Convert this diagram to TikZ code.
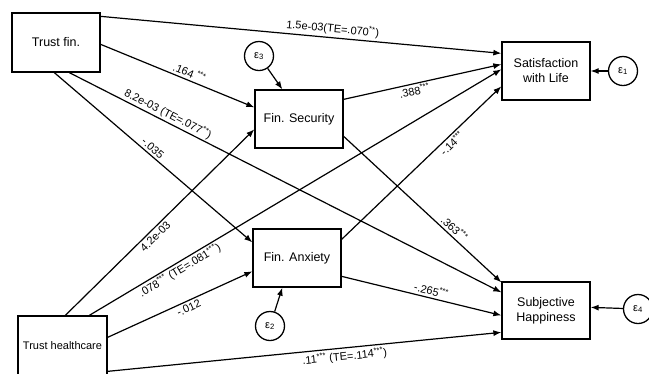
\documentclass[tikz,border=0pt]{standalone}
\usepackage{fontspec}
\setmainfont{Liberation Sans}
\usetikzlibrary{arrows.meta,calc}
\tikzset{
  box/.style={draw, line width=1.3pt, inner sep=0pt, align=center, font=\fontsize{12.5}{15}\selectfont},
  err/.style={draw, circle, line width=1.3pt, minimum size=29pt, inner sep=0pt, font=\fontsize{11}{12}\selectfont},
  path/.style={line width=1.2pt, -{Latex[length=8pt,width=6pt]}},
  lbl/.style={sloped, inner sep=1.5pt, font=\fontsize{11}{12}\selectfont}
}
\begin{document}
\begin{tikzpicture}[x=1pt,y=-1pt]
\useasboundingbox (0,0) rectangle (649,373);
\fill[white] (0,0) rectangle (649,373);
% boxes
\node[box, minimum width=88pt, minimum height=59pt] (tf) at (56,42.5) {Trust fin.};
\node[box, minimum width=88pt, minimum height=58pt] (fs) at (299,119) {Fin. Security};
\node[box, minimum width=88pt, minimum height=58pt] (fa) at (297,258) {Fin. Anxiety};
\node[box, minimum width=88pt, minimum height=58pt] (sl) at (546,71) {Satisfaction\\with Life};
\node[box, minimum width=88pt, minimum height=57pt] (sh) at (546,310.5) {Subjective\\Happiness};
\node[box, minimum width=89pt, minimum height=60pt, font=\fontsize{11}{13}\selectfont] (th) at (62.5,346) {Trust healthcare};
% error terms
\node[err] (e3) at (259,56) {ε\textsubscript{3}};
\node[err] (e2) at (270,326) {ε\textsubscript{2}};
\node[err] (e1) at (623,71) {ε\textsubscript{1}};
\node[err] (e4) at (638,309) {ε\textsubscript{4}};
% paths from Trust fin.
\draw[path] ($(tf.north east)+(0,4)$) -- node[lbl, pos=0.577, above=1pt] {1.5e-03(TE=.070\textsuperscript{**})} ($(sl.north west)+(0,12)$);
\draw[path] ($(tf.north east)+(0,32)$) -- node[lbl, pos=0.56, above=1pt] {.164 \textsuperscript{***}} ($(fs.north west)+(0,18)$);
\draw[path] ($(tf.south west)+(58,0)$) -- node[lbl, pos=0.22, above=0pt] {8.2e-03 (TE=.077\textsuperscript{**})} ($(sh.north west)+(0,11)$);
\draw[path] ($(tf.south west)+(43,0)$) -- node[lbl, pos=0.475, above=1pt] {-.035} ($(fa.north west)+(0,14)$);
% paths from mediators
\draw[path] ($(fs.north east)+(0,10)$) -- node[lbl, pos=0.44, below=0pt] {.388\textsuperscript{***}} ($(sl.north west)+(0,23)$);
\draw[path] ($(fs.north east)+(0,47)$) -- node[lbl, pos=0.67, above=1pt] {.363\textsuperscript{***}} ($(sh.north west)+(0,1)$);
\draw[path] ($(fa.north east)+(0,11)$) -- node[lbl, pos=0.66, below=0pt] {-.14\textsuperscript{***}} ($(sl.north west)+(0,45)$);
\draw[path] ($(fa.north east)+(0,48)$) -- node[lbl, pos=0.55, above=1pt] {-.265\textsuperscript{***}} ($(sh.north west)+(0,34)$);
% paths from Trust healthcare
\draw[path] ($(th.north west)+(48,0)$) -- node[lbl, pos=0.45, below=1pt] {4.2e-03} ($(fs.north west)+(0,40)$);
\draw[path] ($(th.north west)+(72,0)$) -- node[lbl, pos=0.21, below=0pt] {.078\textsuperscript{***} (TE=.081\textsuperscript{***})} ($(sl.north west)+(0,28)$);
\draw[path] ($(th.north east)+(0,22)$) -- node[lbl, pos=0.54, below=1pt] {-.012} ($(fa.north west)+(0,43)$);
\draw[path] ($(th.north east)+(0,56)$) -- node[lbl, pos=0.6, below=1pt] {.11\textsuperscript{***} (TE=.114\textsuperscript{***})} ($(sh.north west)+(0,51)$);
% error arrows
\draw[path] (e3) -- ($(fs.north west)+(28,0)$);
\draw[path] (e2) -- ($(fa.south west)+(30,0)$);
\draw[path] (e1) -- (sl.east);
\draw[path] (e4) -- ($(sh.north east)+(0,26)$);
\end{tikzpicture}
\end{document}
